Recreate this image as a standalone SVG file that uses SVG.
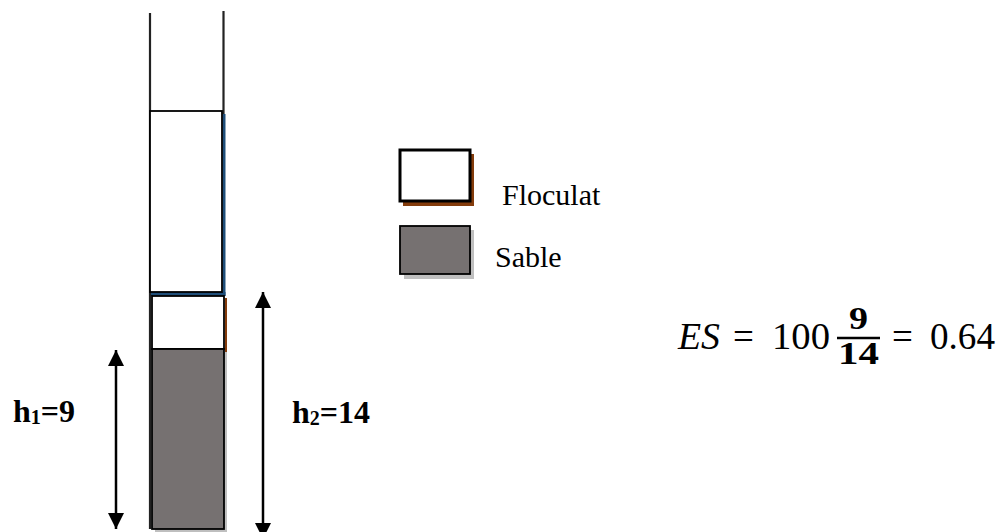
<svg xmlns="http://www.w3.org/2000/svg" width="1003" height="532" viewBox="0 0 1003 532">
<defs>
<style>
.t{font-family:"Liberation Serif","Times New Roman",serif;fill:#000}
.lab{font-size:32px;font-weight:bold}
.leg{font-size:30px}
.eq{font-size:37px}
.fr{font-size:31px;font-weight:bold}
.tube{stroke:#222;stroke-width:2.2;fill:none}
.box{fill:#fff;stroke:#000;stroke-width:1.8}
.sand{fill:#767171;stroke:#000;stroke-width:1.8}
.arr{stroke:#000;stroke-width:2.5;fill:none}
</style>
<marker id="ah" viewBox="0 0 16 16" markerWidth="16" markerHeight="16" refX="16" refY="8" orient="auto-start-reverse" markerUnits="userSpaceOnUse">
<path d="M0,0 L16,8 L0,16 Z" fill="#000"/>
</marker>
</defs>
<rect width="1003" height="532" fill="#fff"/>

<g id="tube">
<line class="tube" x1="150" y1="13" x2="150" y2="529"/>
<line class="tube" x1="223.5" y1="11" x2="223.5" y2="114"/>
</g>

<g id="floculat-upper">
<line x1="224" y1="114" x2="224" y2="296" stroke="#1f4e79" stroke-width="3"/>
<line x1="151" y1="294" x2="225.5" y2="294" stroke="#1f4e79" stroke-width="4"/>
<rect class="box" x="150" y="111" width="72" height="181"/>
</g>

<g id="floculat-lower">
<line x1="226" y1="298" x2="226" y2="363" stroke="#843c0c" stroke-width="2"/>
<rect class="box" x="152" y="296" width="72" height="53"/>
</g>

<g id="sable">
<rect x="155" y="352" width="72" height="180" fill="#bfbfbf"/>
<rect class="sand" x="152" y="349" width="72" height="180"/>
</g>

<g id="legend-floculat">
<rect x="403" y="154" width="71" height="52" fill="#843c0c"/>
<rect x="400" y="150" width="70" height="51" fill="#fff" stroke="#000" stroke-width="3"/>
<text class="t leg" x="502" y="205">Floculat</text>
</g>

<g id="legend-sable">
<rect x="404" y="230" width="70" height="49" fill="#bfbfbf"/>
<rect class="sand" x="400" y="226" width="70" height="48"/>
<text class="t leg" x="495" y="267">Sable</text>
</g>

<g id="connectors">
<line class="arr" x1="116" y1="350" x2="116" y2="529" marker-start="url(#ah)" marker-end="url(#ah)"/>
<line class="arr" x1="263" y1="292" x2="263" y2="539" marker-start="url(#ah)" marker-end="url(#ah)"/>
</g>

<g id="label-h1">
<text class="t lab" x="13" y="422">h<tspan font-size="20" dy="2">1</tspan><tspan dy="-2">=9</tspan></text>
</g>
<g id="label-h2">
<text class="t lab" x="292" y="423">h<tspan font-size="20" dy="2">2</tspan><tspan dy="-2">=14</tspan></text>
</g>

<g id="equation">
<text class="t eq" x="678" y="349" font-style="italic" textLength="42" lengthAdjust="spacingAndGlyphs">ES</text>
<text class="t eq" x="733" y="349">=</text>
<text class="t eq" x="772" y="349" textLength="58" lengthAdjust="spacingAndGlyphs">100</text>
<text class="t fr" x="849" y="329" textLength="19" lengthAdjust="spacingAndGlyphs">9</text>
<line x1="837" y1="338" x2="880" y2="338" stroke="#000" stroke-width="2.5"/>
<text class="t fr" x="838" y="364" textLength="41" lengthAdjust="spacingAndGlyphs">14</text>
<text class="t eq" x="892" y="349">=</text>
<text class="t eq" x="930" y="349" textLength="65" lengthAdjust="spacingAndGlyphs">0.64</text>
</g>
</svg>
